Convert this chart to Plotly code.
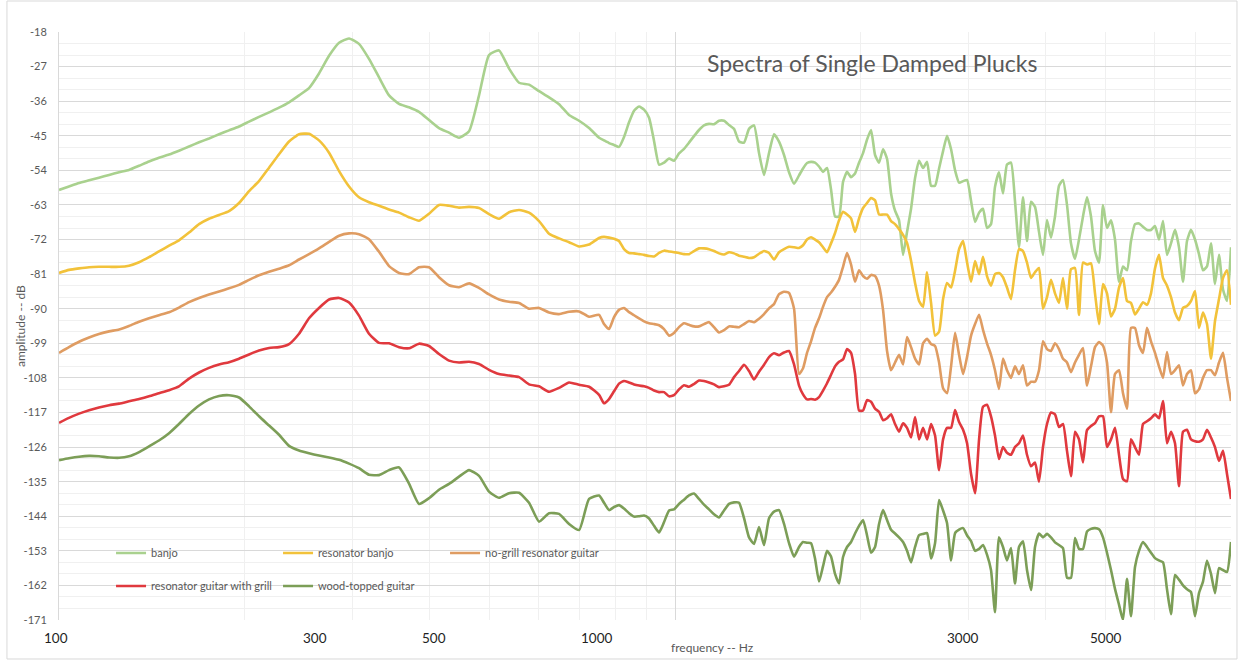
import plotly.graph_objects as go

# ---------------- data ----------------
freq_hz = [
    100, 103.8, 107.8, 111.9, 116.1, 120.6, 125.2, 129.9, 134.9, 140.0,
    145.3, 150.9, 156.6, 162.6, 168.8, 175.2, 181.9, 188.8, 196.0, 203.5,
    211.2, 219.3, 227.6, 236.3, 245.3, 254.6, 264.3, 274.4, 284.9, 295.7,
    306.9, 318.6, 330.8, 343.4, 356.5, 370.0, 384.1, 398.7, 413.9, 429.7,
    446.1, 463.1, 480.7, 499.0, 518.0, 537.8, 558.3, 579.5, 601.6, 624.5,
    648.3, 673.0, 698.7, 725.3, 752.9,
    766.9, 781.5, 796.2, 811.2, 826.5, 842.2, 858.1, 874.3, 890.8, 907.6,
    924.8, 942.2, 960.0, 978.1, 996.3, 1015.1, 1034.2, 1053.7, 1073.6, 1093.9,
    1114.5, 1135.6, 1157.0, 1178.9, 1201.1, 1223.8, 1246.9, 1270.4, 1294.4, 1318.8,
    1343.7, 1369.0, 1394.9, 1421.2, 1448.0, 1475.3, 1503.2, 1531.5, 1560.5, 1589.9,
    1613.8, 1638.1, 1662.8, 1687.8, 1713.3, 1739.1, 1765.3, 1791.9, 1818.9, 1846.3,
    1874.1, 1902.4, 1931.0, 1960.1, 1989.6, 2019.6, 2050.1, 2081.0, 2112.3, 2144.1,
    2176.4, 2209.2, 2242.5, 2276.3, 2310.6, 2345.4, 2380.8, 2416.6, 2453.1, 2490.0,
    2527.5, 2565.6, 2604.3, 2643.5, 2683.4, 2723.8, 2764.8, 2806.5, 2848.8, 2891.7,
    2935.3, 2979.5, 3024.4, 3069.9, 3116.2, 3162.3, 3209.9, 3258.3, 3307.4, 3357.2,
    3407.8, 3459.1, 3511.2, 3564.1, 3617.8, 3672.3, 3727.6, 3783.8, 3840.8, 3898.6,
    3957.4, 4017.0, 4077.5, 4138.9, 4201.2, 4264.5, 4328.8, 4394.0, 4460.2, 4527.3,
    4595.5, 4664.8, 4735.0, 4806.4, 4878.8, 4952.3, 5026.9, 5102.6, 5179.5, 5257.5,
    5336.7, 5417.1, 5498.7, 5581.5, 5665.6, 5751.0, 5837.6, 5925.6, 6014.8, 6105.4,
    6197.4, 6290.8, 6385.5, 6481.7, 6579.3, 6678.5, 6779.1, 6881.2, 6984.9, 7090.1,
    7196.9, 7305.3, 7415.4, 7527.1, 7640.5, 7755.6, 7872.4, 7991.0,
]

banjo_db = [
    -59.1, -58.2, -57.3, -56.6, -55.9, -55.2, -54.5, -53.9, -52.8, -51.7,
    -50.7, -49.9, -48.9, -47.8, -46.7, -45.7, -44.6, -43.6, -42.6, -41.3,
    -40.1, -38.9, -37.7, -36.3, -34.5, -32.6, -28.8, -24.2, -20.8, -19.7,
    -21.1, -25.0, -29.8, -34.5, -36.7, -37.6, -38.8, -40.9, -43.0, -44.2,
    -45.5, -43.8, -34.5, -24.0, -22.8, -27.5, -31.2, -31.7, -33.4, -35.0,
    -36.8, -39.6, -41.1, -43.0, -45.5,
    -46.2, -46.9, -47.4, -47.9, -45.3, -41.5, -38.5, -37.4, -38.2, -40.3,
    -46.4, -52.5, -52.0, -50.9, -51.5, -49.6, -48.4, -46.8, -45.1, -43.5,
    -42.3, -41.9, -42.0, -41.1, -41.1, -42.2, -43.2, -46.5, -46.8, -43.2,
    -42.3, -49.5, -55.2, -49.5, -44.6, -46.5, -50.0, -54.5, -57.5, -55.3,
    -53.5, -52.1, -51.8, -52.0, -53.0, -54.4, -53.4, -59, -66, -66,
    -57, -54.4, -55.8, -54.8, -52, -49.5, -46, -43.5, -50, -52,
    -48.5, -51, -60, -64.5, -67, -76, -70, -64, -56, -51.5,
    -53.4, -51.8, -58, -58, -53.5, -49, -45, -48.5, -54, -57.2,
    -56.8, -56.5, -62, -67.4, -65, -64, -69, -68, -58.3, -54.5,
    -60, -52.5, -52, -62, -74, -61, -72.4, -62.2, -63.5, -70,
    -76, -66.9, -71.5, -66, -58, -56.5, -63, -73, -77, -72,
    -66, -61, -66, -75, -78, -63, -69, -67, -72, -83,
    -79, -80, -72.4, -68, -67.8, -68.7, -69.5, -69.5, -68.5, -72,
    -67.2, -76, -73, -69.5, -74, -83, -72.4, -69.5, -72, -75.8,
    -80, -79, -73, -83.6, -76, -85, -88, -74,
]

resonator_banjo_db = [
    -80.7, -79.9, -79.5, -79.2, -79.1, -79.1, -79.1, -78.8, -77.9, -76.6,
    -75.1, -73.6, -72.2, -70.2, -68.0, -66.6, -65.6, -64.6, -62.5, -59.4,
    -56.8, -53.3, -49.8, -46.5, -44.6, -44.5, -46.2, -49.4, -54.2, -58.2,
    -61.0, -62.3, -63.2, -64.2, -65.0, -66.2, -67.1, -65.3, -63.0, -63.2,
    -63.7, -63.5, -63.8, -65.4, -66.6, -64.9, -64.3, -65.0, -67.2, -70.5,
    -71.7, -72.7, -73.8, -73.3, -71.6,
    -71.3, -71.5, -71.8, -72.4, -74.5, -75.5, -75.6, -75.8, -76.0, -76.3,
    -76.4, -75.5, -74.9, -75.1, -75.3, -75.5, -75.8, -75.8, -75.0, -74.3,
    -74.3, -74.5, -75.0, -75.6, -75.9, -75.3, -75.6, -76.2, -76.5, -76.8,
    -76.6, -75.7, -75.0, -75.5, -77.2, -75.3, -74.5, -73.9, -74.0, -74.2,
    -73.5, -72.0, -71.4, -72.0, -72.7, -74.0, -75.3, -73.0, -70.3, -67.0,
    -64.8, -65.5, -66.5, -70.0, -66.5, -63.8, -62.5, -61.2, -61.8, -65.5,
    -65.5, -65.5, -67.2, -68.0, -69.3, -70.8, -72.9, -77.5, -83.3, -88,
    -89.5, -80.5, -88.5, -97, -96, -87.5, -83.3, -84.5, -80.1, -74.5,
    -72.4, -78, -83, -77.6, -81, -76.5, -81.5, -84, -81, -80.7,
    -81.8, -84.5, -87.5, -80, -74.5, -75, -78, -82, -80.5, -79.4,
    -90, -87, -82.5, -86, -88.5, -82, -90, -79.7, -79.4, -91.6,
    -78, -78.5, -78.2, -86, -94, -83.6, -86, -92, -90, -84.5,
    -82, -88, -88.5, -91.5, -90, -88.3, -89, -86, -79.5, -76,
    -82, -84, -87, -91, -93, -89.8, -89.3, -88, -85.4, -95,
    -91, -94, -103, -93.2, -87.5, -82, -80, -89,
]

no_grill_resonator_guitar_db = [
    -101.5, -100.0, -98.6, -97.5, -96.6, -95.9, -95.4, -94.5, -93.4, -92.5,
    -91.7, -90.9, -89.7, -88.3, -87.2, -86.3, -85.5, -84.7, -83.8, -82.5,
    -81.3, -80.4, -79.6, -78.7, -77.2, -75.8, -74.3, -72.6, -71.0, -70.4,
    -70.6, -71.9, -75.2, -78.9, -80.7, -81.0, -79.2, -79.2, -81.8, -83.9,
    -84.4, -83.4, -84.6, -86.3, -87.6, -88.2, -88.5, -90.0, -89.8, -91.0,
    -91.4, -90.8, -90.7, -92.1, -91.6,
    -94.0, -95.3, -92.2, -90.3, -89.8, -90.9, -91.7, -92.5, -93.3, -93.8,
    -94.0, -94.3, -95.3, -97.0, -96.3, -94.8, -93.8, -94.2, -94.6, -94.6,
    -94.0, -93.5, -94.8, -96.2, -95.6, -94.6, -94.7, -94.8, -94.0, -93.2,
    -93.5, -92.6, -91.4, -89.9, -88.8, -86.2, -85.6, -85.9, -90, -107,
    -105.5, -101.5, -98.5, -95, -92.5, -89.5, -87, -85.8, -84.3, -82.5,
    -79.1, -75.5, -78.5, -83, -80, -81.5, -82.2, -81.2, -81.5, -84,
    -90.3, -101, -106, -104, -102, -104.5, -97.4, -100, -103, -104.5,
    -99, -97.8, -99.2, -99.7, -104, -110.7, -112, -105, -96.3, -102,
    -107, -102.5, -97, -94, -91.6, -95.5, -99, -102, -106, -110.9,
    -103, -106, -108, -105, -107, -104.7, -110, -109, -109, -106,
    -98.5, -100.5, -101, -99, -100.5, -103, -104, -106.5, -104, -102,
    -100.2, -110, -105, -100, -98.7, -99.6, -104, -116.9, -107, -106,
    -112, -116, -95, -95, -99.5, -101.5, -95, -98.5, -101.5, -105,
    -108, -101.3, -107, -106, -104.7, -110, -107, -106, -112, -111,
    -108, -106, -106, -107.3, -104, -101.5, -108, -114,
]

resonator_guitar_with_grill_db = [
    -119.7, -118.4, -117.3, -116.4, -115.7, -115.1, -114.7, -114.1, -113.5, -112.8,
    -112.0, -111.2, -110.2, -108.2, -106.6, -105.4, -104.5, -103.9, -103.0, -101.9,
    -100.9, -100.2, -100.0, -99.2, -96.5, -92.5, -89.8, -87.6, -87.2, -88.4,
    -91.8, -96.5, -98.9, -99.0, -100.0, -100.3, -99.1, -99.7, -101.8, -103.5,
    -104.0, -103.8, -104.4, -105.9, -107.0, -107.4, -107.8, -109.7, -110.2, -111.6,
    -110.6, -109.2, -109.8, -110.3, -112.4,
    -114.6, -113.5, -111.5, -109.5, -108.8, -109.2, -109.7, -110.0, -110.2, -110.6,
    -111.3, -111.7, -111.7, -112.8, -112.5, -111.0, -109.9, -110.3, -109.6, -108.7,
    -108.8, -109.2, -109.7, -110.4, -110.2, -109.8, -107.8, -106.2, -104.6, -106.2,
    -108.4, -106.4, -104.6, -102.6, -101.6, -102.1, -101.4, -101.0, -104.5, -110,
    -112.3, -113.6, -113.5, -113.7, -113.0, -111.3, -109.4, -107.2, -105, -103.8,
    -103.2, -100.5, -101.5, -107, -116.5, -116.5, -113.8, -114.2, -116, -116.8,
    -119, -118.5, -117.5, -120, -122, -119.8, -121, -123.5, -118.2, -124,
    -121, -124, -120, -123, -132, -124, -121, -121, -116.4, -119.5,
    -121.5, -125, -133, -138, -124, -115.5, -115, -118, -123, -129.1,
    -126, -127.5, -128, -126, -125, -123, -128, -131, -130, -135,
    -126, -120, -117, -117.5, -120.8, -120, -127, -133.6, -122, -124,
    -130, -121.6, -120.5, -119.8, -118, -118, -126, -124, -121, -128,
    -134.3, -134.9, -124, -126, -128, -120, -119.3, -118.5, -117.5, -118.5,
    -114, -125, -122, -125, -136.2, -122, -121.5, -124, -124.5, -124.6,
    -124, -121.5, -123.5, -126, -129.6, -127, -133, -139.5,
]

wood_topped_guitar_db = [
    -129.4, -128.9, -128.5, -128.3, -128.4, -128.7, -128.8, -128.4, -127.3, -125.8,
    -124.3, -122.4, -120.0, -117.4, -115.2, -113.6, -112.7, -112.5, -113.1, -115.4,
    -118.0, -120.4, -122.8, -125.7, -126.9, -127.6, -128.2, -128.7, -129.3, -130.3,
    -131.5, -133.2, -133.3, -132.0, -131.3, -135.5, -140.8, -139.3, -137.1, -135.6,
    -133.7, -132.0, -133.5, -137.6, -139.2, -138.0, -137.9, -140.5, -145.4, -143.2,
    -143.4, -146.0, -147.6, -139.5, -138.6,
    -140.5, -142.4, -141.6, -141.1, -142.0, -143.2, -144.1, -144.0, -143.8, -144.6,
    -146.5, -148.2, -145.5, -142.5, -142.2, -140.8, -139.7, -138.6, -138.1, -139.5,
    -141.0, -142.2, -143.5, -144.3, -142.5, -140.8, -140.4, -140.5, -144.5, -149.5,
    -151.2, -146.8, -151.5, -144.5, -142.8, -142.4, -146, -151, -154.5, -152,
    -150.7, -150.9, -151, -155, -161, -157, -153, -154.5, -159, -161.5,
    -154.6, -152, -150.7, -148.5, -146.5, -145, -149, -153.5, -152, -146,
    -142.4, -145, -147.5, -148.5, -149.5, -150.7, -153, -156, -152, -148.9,
    -148.6, -148.4, -155, -151, -139.8, -142.5, -145.8, -155.5, -148.4, -147.5,
    -147.1, -149, -150.5, -153, -152.5, -151.5, -154, -158, -169, -149.5,
    -152, -155.5, -152.3, -161.5, -152, -150.5, -158, -163.2, -152, -148.5,
    -149.5, -148.6, -149.5, -150.8, -151.5, -152.3, -160, -160, -149.7, -152.5,
    -152.5, -148, -147.3, -147.1, -147.4, -149.5, -153.5, -158, -162.9, -167,
    -171, -160.3, -170, -157.2, -153, -150.7, -152, -153.5, -154.9, -155.5,
    -156, -163, -169.5, -159.3, -160.5, -162, -163, -163.7, -170, -164,
    -161, -155.5, -159, -164, -157.5, -158, -158.5, -150.7,
]

series_names = [
    "banjo",
    "resonator banjo",
    "no-grill resonator guitar",
    "resonator guitar with grill",
    "wood-topped guitar",
]
series_values = [
    banjo_db,
    resonator_banjo_db,
    no_grill_resonator_guitar_db,
    resonator_guitar_with_grill_db,
    wood_topped_guitar_db,
]

y_tick_values = [-18, -27, -36, -45, -54, -63, -72, -81, -90, -99,
                 -108, -117, -126, -135, -144, -153, -162, -171]
y_tick_labels = ["-18", "-27", "-36", "-45", "-54", "-63", "-72", "-81", "-90",
                 "-99", "-108", "-117", "-126", "-135", "-144", "-153", "-162",
                 "-171"]
x_tick_labels = ["100", "300", "500", "1000", "3000", "5000"]
x_major_grid = [100, 1000]
x_minor_grid = [200, 300, 400, 500, 600, 700, 800, 900,
                2000, 3000, 4000, 5000, 6000, 7000, 8000]

for vals in series_values:
    assert len(vals) == len(freq_hz), (len(vals), len(freq_hz))

# ---------------- styling ----------------
colors = ["#A9D18E", "#F2C23A", "#DF9C62", "#E0393E", "#7C9E57"]
legend_ids = ["legend", "legend", "legend", "legend2", "legend2"]
FONT = "Lato, 'Open Sans', sans-serif"
GREY = "#595959"

fig = go.Figure()
for name, vals, col, lg in zip(series_names, series_values, colors, legend_ids):
    fig.add_trace(go.Scatter(
        x=freq_hz, y=vals, name=name, mode="lines",
        line=dict(color=col, width=2.6, shape="spline", smoothing=0.5),
        legend=lg,
    ))

# x tick label text boxes (placed as in the reference) - paper coordinates
x_label_pos = [-0.0026, 0.2184, 0.320, 0.459, 0.7713, 0.8925]
annotations = []
for txt, px in zip(x_tick_labels, x_label_pos):
    annotations.append(dict(
        text=txt, x=px, y=-0.031, xref="paper", yref="paper",
        xanchor="center", yanchor="middle", showarrow=False,
        font=dict(family=FONT, size=13.5, color="#1e1e1e"),
    ))
annotations += [
    dict(text="Spectra of Single Damped Plucks", x=0.6937, y=0.947,
         xref="paper", yref="paper", xanchor="center", yanchor="middle",
         showarrow=False, font=dict(family=FONT, size=23, color=GREY)),
    dict(text="frequency -- Hz", x=0.558, y=-0.046, xref="paper", yref="paper",
         xanchor="center", yanchor="middle", showarrow=False,
         font=dict(family=FONT, size=12, color=GREY)),
    dict(text="amplitude -- dB", x=-0.0333, y=0.5, xref="paper", yref="paper",
         xanchor="center", yanchor="middle", showarrow=False, textangle=-90,
         font=dict(family=FONT, size=12, color=GREY)),
]

legend_common = dict(
    orientation="h", xanchor="left", yanchor="middle",
    bgcolor="rgba(255,255,255,0)", borderwidth=0,
    font=dict(family=FONT, size=11, color=GREY),
    entrywidth=122, entrywidthmode="pixels", itemwidth=30,
    traceorder="normal",
)

fig.update_layout(
    width=1239, height=661,
    margin=dict(l=59, r=8, t=32, b=41),
    paper_bgcolor="white", plot_bgcolor="white",
    font=dict(family=FONT, color=GREY),
    showlegend=True,
    legend=dict(x=0.0444, y=0.1139, **legend_common),
    legend2=dict(x=0.0444, y=0.0578, **legend_common),
    annotations=annotations,
    shapes=[dict(type="rect", xref="paper", yref="paper",
                 x0=-0.0444, x1=1.0051, y0=-0.0663, y1=1.0527,
                 line=dict(color="#D9D9D9", width=1), layer="below")],
    xaxis=dict(
        type="log", range=[2, 3.9026],
        tickmode="array", tickvals=x_major_grid, showticklabels=False,
        ticks="", showgrid=True, gridcolor="#D9D9D9", gridwidth=1,
        minor=dict(tickmode="array", tickvals=x_minor_grid, showgrid=True,
                   gridcolor="#F0F0F0", ticks=""),
        zeroline=False, showline=False, fixedrange=True,
    ),
    yaxis=dict(
        range=[-171, -18], tickmode="array", tickvals=y_tick_values,
        ticktext=y_tick_labels,
        ticks="", showgrid=True, gridcolor="#D9D9D9", gridwidth=1,
        minor=dict(dtick=3, showgrid=True, gridcolor="#F0F0F0", ticks=""),
        tickfont=dict(family=FONT, size=11, color=GREY),
        zeroline=False, showline=True, linecolor="#D9D9D9", linewidth=1,
        ticklabelstandoff=9, fixedrange=True,
    ),
)

fig.write_html("out.html", config={"displayModeBar": False},
               post_script="document.body.style.margin='0';")
